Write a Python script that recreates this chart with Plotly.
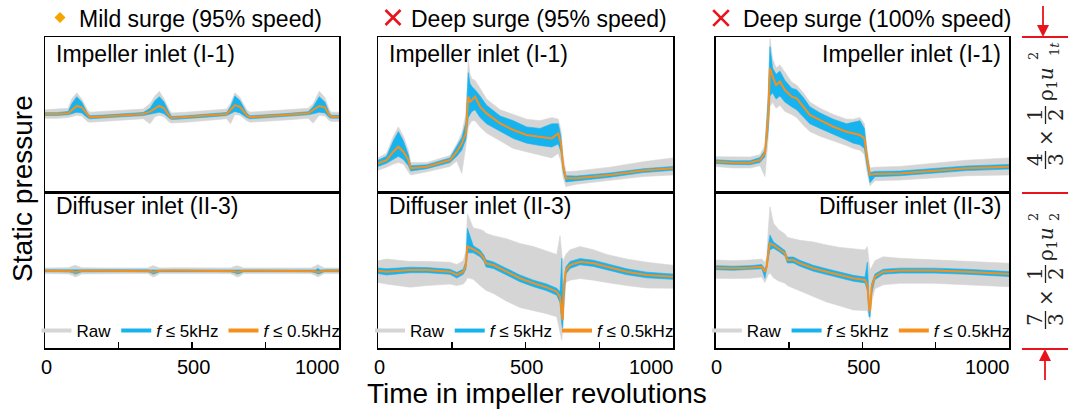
import plotly.graph_objects as go

# ---------------- data (normalised static pressure, % of the scale bar) ----------------
TICK_VALUES = [0, 500, 1000]
TICK_LABELS = ["0", "500", "1000"]
MINOR_TICKS = [250, 500, 750]

CASE_TITLES = ["Mild surge (95% speed)", "Deep surge (95% speed)", "Deep surge (100% speed)"]
LOCATIONS = ["Impeller inlet (I-1)", "Diffuser inlet (II-3)"]
SERIES_NAMES = ["Raw", "<i>f</i> ≤ 5kHz", "<i>f</i> ≤ 0.5kHz"]

# Mild surge (95%) - impeller inlet
mild_imp_x = [0, 40, 79, 91, 108, 125, 144, 153, 200, 260, 334, 357, 374, 389, 405, 423, 431, 480, 550,
              618, 631, 646, 663, 686, 697, 750, 820, 895, 912, 933, 952, 967, 975, 1000]
mild_imp_f05 = [50.3, 50.3, 50.8, 52.9, 55.5, 54.6, 49.7, 48.2, 48.7, 49.4, 50.3, 51.8, 54.0, 55.5, 54.0, 49.0, 47.7,
                48.3, 49.2, 50.3, 52.9, 56.1, 55.0, 49.7, 48.2, 48.8, 49.7, 50.8, 52.9, 55.5, 54.6, 49.7, 48.6, 48.6]
mild_imp_f5_hi = [51.2, 51.2, 52.0, 57.0, 61.5, 58.0, 51.0, 49.2, 49.6, 50.3, 51.3, 54.0, 59.0, 61.5, 58.0, 51.0, 48.7,
                  49.2, 50.1, 51.3, 55.0, 62.0, 59.0, 51.0, 49.2, 49.7, 50.6, 51.8, 55.0, 61.5, 58.0, 51.0, 49.5, 49.5]
mild_imp_f5_lo = [49.4, 49.4, 49.8, 50.5, 51.5, 51.0, 48.0, 47.2, 47.8, 48.5, 49.3, 50.0, 51.0, 51.5, 50.5, 47.5, 46.7,
                  47.4, 48.3, 49.3, 50.5, 52.0, 51.0, 48.0, 47.2, 47.9, 48.8, 49.8, 50.5, 51.5, 51.0, 48.0, 47.6, 47.6]
mild_imp_raw_hi = [53.0, 53.5, 54.0, 60.0, 64.0, 60.0, 53.0, 51.5, 52.0, 52.5, 53.5, 57.0, 62.0, 65.0, 60.0, 53.0, 51.0,
                   51.5, 52.5, 53.5, 57.0, 64.0, 61.0, 53.0, 51.5, 52.0, 53.0, 54.0, 57.0, 65.0, 61.0, 53.0, 51.5, 51.5]
mild_imp_raw_lo = [47.5, 47.5, 48.0, 48.5, 49.5, 49.0, 45.5, 45.0, 45.5, 46.3, 47.3, 44.0, 48.5, 49.5, 48.5, 45.0, 44.5,
                   45.0, 46.0, 47.3, 44.0, 50.0, 49.5, 46.0, 45.0, 45.5, 46.5, 47.5, 44.5, 49.5, 49.0, 46.0, 45.5, 45.5]

# Mild surge (95%) - diffuser inlet
mild_dif_x = [0, 80, 95, 102, 110, 125, 200, 300, 350, 360, 367, 375, 390, 450, 550, 630, 645, 653, 662, 675,
              750, 850, 905, 920, 928, 936, 950, 1000]
mild_dif_f05 = [49.5, 49.5, 49.2, 48.6, 49.0, 49.5, 49.5, 49.5, 49.5, 49.2, 48.6, 49.0, 49.5, 49.6, 49.5, 49.5, 49.2,
                48.6, 49.0, 49.5, 49.5, 49.5, 49.5, 49.2, 48.6, 49.1, 49.5, 49.5]
mild_dif_f5_hi = [50.1, 50.2, 50.0, 50.0, 49.9, 50.2, 50.1, 50.1, 50.1, 50.0, 50.0, 49.8, 50.1, 50.2, 50.1, 50.1, 50.0,
                  50.0, 49.8, 50.1, 50.1, 50.1, 50.1, 50.0, 51.0, 50.0, 50.1, 50.1]
mild_dif_f5_lo = [48.9, 48.8, 48.2, 47.4, 47.8, 48.8, 48.9, 48.9, 48.9, 48.2, 47.4, 47.8, 48.9, 49.0, 48.9, 48.9, 48.2,
                  47.4, 47.8, 48.9, 48.9, 48.9, 48.9, 48.2, 47.4, 47.8, 48.9, 48.9]
mild_dif_raw_hi = [51.3, 51.5, 52.5, 53.0, 52.5, 51.5, 51.3, 51.3, 51.3, 52.3, 52.8, 52.3, 51.3, 51.4, 51.3, 51.3, 52.3,
                   52.8, 52.3, 51.3, 51.3, 51.3, 51.3, 52.5, 53.5, 52.5, 51.3, 51.3]
mild_dif_raw_lo = [47.7, 47.5, 46.5, 45.5, 46.0, 47.5, 47.7, 47.7, 47.7, 46.5, 45.5, 46.0, 47.7, 47.8, 47.7, 47.7, 46.5,
                   45.5, 46.0, 47.7, 47.7, 47.7, 47.7, 46.5, 45.5, 46.0, 47.7, 47.7]

# Deep surge (95%) - impeller inlet
deep95_imp_x = [0, 29, 52, 69, 86, 103, 111, 165, 244, 267, 284, 298, 306, 312, 318, 329, 346, 368, 414, 459, 504,
                549, 589, 611, 620, 628, 637, 673, 786, 899, 1000]
deep95_imp_f05 = [18.5, 20.6, 26.0, 29.2, 26.0, 20.6, 15.3, 16.3, 20.6, 26.0, 31.4, 38.0, 61.5, 58.0, 59.3, 61.5, 55.0,
                  50.7, 44.3, 40.0, 36.8, 35.7, 34.6, 37.8, 31.4, 16.3, 8.8, 8.8, 11.0, 13.8, 15.3]
deep95_imp_f5_hi = [20.5, 23.0, 33.0, 39.0, 33.0, 24.0, 17.0, 17.5, 22.0, 29.0, 35.0, 45.0, 77.0, 70.0, 68.0, 66.0,
                    62.0, 56.0, 49.0, 46.0, 42.0, 41.0, 44.0, 44.0, 36.0, 18.0, 10.5, 10.3, 12.3, 15.0, 16.5]
deep95_imp_f5_lo = [16.5, 18.5, 21.0, 23.0, 21.0, 17.0, 13.5, 15.0, 19.0, 23.0, 27.0, 34.0, 48.0, 50.0, 52.0, 53.0,
                    48.0, 44.0, 39.0, 34.5, 31.5, 30.0, 29.0, 31.0, 26.0, 13.0, 6.5, 7.3, 9.5, 12.5, 14.0]
deep95_imp_raw_hi = [22.0, 25.0, 36.0, 42.0, 36.0, 27.0, 19.0, 19.0, 23.5, 31.0, 38.0, 50.0, 85.0, 76.0, 73.0, 72.0,
                     67.0, 60.0, 53.0, 50.0, 47.0, 46.0, 48.0, 47.0, 40.0, 22.0, 13.0, 13.5, 16.0, 19.5, 22.0]
deep95_imp_raw_lo = [14.0, 16.0, 18.0, 19.0, 18.0, 13.0, 11.0, 13.0, 16.5, 20.0, 12.0, 30.0, 42.0, 44.0, 46.0, 46.0,
                     42.0, 38.0, 33.0, 28.0, 26.0, 24.0, 22.0, 25.0, 20.0, 9.0, 3.5, 5.0, 7.5, 10.0, 11.0]

# Deep surge (95%) - diffuser inlet
deep95_dif_x = [0, 29, 108, 165, 244, 267, 289, 298, 303, 323, 346, 359, 366, 391, 436, 481, 527, 572, 606, 617,
                623, 626, 630, 637, 651, 685, 730, 775, 843, 911, 1000]
deep95_dif_f05 = [49.6, 48.9, 50.0, 50.0, 48.9, 46.8, 48.9, 53.2, 65.0, 63.3, 60.7, 57.5, 54.3, 53.2, 48.9, 44.7, 41.5,
                  38.9, 36.1, 32.9, 22.2, 17.9, 39.3, 50.0, 53.2, 55.3, 54.3, 52.1, 48.9, 46.8, 45.7]
deep95_dif_f5_hi = [51.3, 50.8, 51.8, 51.6, 50.5, 48.5, 50.5, 56.0, 76.7, 65.5, 62.8, 59.5, 56.5, 55.2, 51.0, 46.8,
                    43.5, 41.0, 38.3, 36.0, 57.5, 35.0, 41.5, 52.0, 55.5, 57.3, 56.3, 54.0, 50.8, 48.6, 47.4]
deep95_dif_f5_lo = [47.7, 46.8, 48.2, 48.3, 47.2, 44.8, 47.2, 50.5, 61.0, 61.0, 58.5, 55.5, 52.0, 51.0, 46.8, 42.5,
                    39.3, 36.7, 33.8, 29.0, 15.0, 12.6, 30.0, 47.5, 51.0, 53.3, 52.3, 50.1, 47.0, 45.0, 44.0]
deep95_dif_raw_hi = [56.0, 57.0, 55.5, 55.5, 55.0, 53.5, 56.0, 62.0, 86.0, 77.0, 76.0, 75.0, 73.5, 72.0, 70.0, 67.0,
                     65.0, 62.0, 60.0, 72.0, 60.0, 55.0, 57.0, 60.0, 63.0, 65.0, 63.0, 60.0, 57.0, 55.0, 53.0]
deep95_dif_raw_lo = [42.0, 41.0, 39.0, 40.0, 41.0, 40.0, 41.0, 43.0, 45.0, 44.0, 40.0, 38.0, 37.0, 35.0, 30.0, 26.0,
                     24.0, 22.0, 20.0, 10.0, 5.0, 10.0, 25.0, 42.0, 43.5, 44.5, 43.5, 42.0, 40.0, 38.5, 38.3]

# Deep surge (100%) - impeller inlet
deep100_imp_x = [0, 60, 117, 151, 168, 179, 185, 194, 206, 219, 236, 259, 276, 299, 321, 356, 401, 446, 469, 492,
                 507, 515, 526, 543, 628, 742, 855, 1000]
deep100_imp_f05 = [19.6, 18.9, 18.9, 20.6, 24.9, 48.6, 79.8, 74.4, 69.0, 71.2, 65.8, 61.5, 60.4, 55.0, 49.7, 46.4,
                   42.1, 38.9, 37.8, 36.8, 34.6, 22.8, 11.0, 11.6, 12.0, 13.8, 15.3, 16.3]
deep100_imp_f5_hi = [20.8, 20.1, 20.2, 22.2, 27.0, 60.0, 93.7, 80.0, 76.0, 78.0, 72.0, 67.0, 66.0, 61.0, 55.0, 51.0,
                     47.0, 44.0, 45.0, 46.0, 41.0, 26.0, 12.5, 13.3, 13.5, 15.3, 16.8, 17.8]
deep100_imp_f5_lo = [18.4, 17.7, 17.6, 19.0, 22.8, 40.0, 62.0, 64.0, 60.0, 62.0, 58.0, 55.0, 53.0, 48.5, 44.0, 41.0,
                     37.0, 33.5, 31.5, 30.5, 28.0, 18.0, 6.0, 9.9, 10.5, 12.3, 13.8, 14.8]
deep100_imp_raw_hi = [22.8, 22.5, 22.5, 24.0, 30.0, 65.0, 99.0, 86.0, 80.0, 82.0, 77.0, 71.0, 69.0, 64.0, 58.0, 54.0,
                      50.0, 47.0, 47.0, 48.0, 44.0, 30.0, 15.5, 16.0, 16.5, 18.5, 20.5, 22.0]
deep100_imp_raw_lo = [16.4, 15.5, 15.5, 17.0, 10.0, 35.0, 55.0, 58.0, 54.0, 56.0, 52.0, 50.0, 48.0, 43.0, 39.0, 36.0,
                      33.0, 30.0, 28.0, 27.0, 24.0, 14.0, 4.0, 7.3, 7.7, 9.2, 10.5, 11.0]

# Deep surge (100%) - diffuser inlet
deep100_dif_x = [0, 60, 117, 157, 168, 174, 179, 185, 197, 214, 236, 244, 265, 287, 333, 378, 424, 469, 509, 517,
                 523, 526, 532, 543, 571, 628, 742, 855, 1000]
deep100_dif_f05 = [51.5, 51.1, 51.5, 52.1, 48.9, 52.1, 60.7, 67.1, 66.0, 63.9, 60.7, 56.4, 56.4, 54.3, 51.1, 48.9,
                   46.8, 44.7, 43.6, 40.4, 26.5, 23.3, 39.3, 45.7, 48.9, 49.6, 49.6, 48.9, 47.4]
deep100_dif_f5_hi = [52.8, 52.4, 52.8, 53.5, 50.5, 54.0, 65.0, 72.4, 68.0, 65.8, 62.5, 58.3, 58.3, 56.2, 53.0, 50.8,
                     48.7, 46.6, 45.5, 55.0, 30.0, 26.0, 41.5, 47.5, 50.5, 51.2, 51.2, 50.5, 49.0]
deep100_dif_f5_lo = [50.2, 49.8, 50.2, 50.8, 44.7, 50.2, 56.0, 63.0, 64.0, 62.0, 59.0, 54.5, 54.5, 52.4, 49.2, 47.0,
                     44.9, 42.8, 41.7, 37.0, 20.0, 20.0, 35.0, 43.8, 47.3, 48.0, 48.0, 47.3, 45.8]
deep100_dif_raw_hi = [56.4, 56.0, 56.4, 57.0, 55.0, 58.0, 75.0, 90.6, 80.0, 76.0, 73.0, 71.0, 70.0, 69.0, 68.0, 66.0,
                      64.5, 63.5, 62.8, 65.0, 55.0, 50.0, 52.0, 56.0, 58.5, 57.5, 56.5, 55.5, 54.3]
deep100_dif_raw_lo = [44.7, 44.5, 44.7, 45.5, 42.0, 45.0, 47.0, 48.0, 45.0, 43.0, 41.5, 40.0, 38.5, 36.5, 33.0, 29.5,
                      27.0, 24.4, 24.0, 24.0, 20.0, 18.0, 30.0, 38.0, 40.5, 41.5, 41.5, 40.5, 39.3]

# ---------------- styling ----------------
W, H = 1070, 409
FONT = "Liberation Sans, Arial, sans-serif"
MATH = "DejaVu Serif, serif"
C_RAW = "#d5d5d5"
C_F5 = "#17b3ee"
C_F05 = "#f5901e"
C_RED = "#e8141c"
C_DIAMOND = "#f6a500"
BLACK = "#000000"
C_MATH = "#222222"


def px(x):
    return x / W


def py(y):
    return 1 - y / H


# pixel geometry of the three panels
PANEL_X = [(45, 339), (378, 673), (715.7, 1009)]
ROW_Y = [(37, 192), (192, 348)]

SUBPLOTS = [
    (mild_imp_x, mild_imp_raw_lo, mild_imp_raw_hi, mild_imp_f5_lo, mild_imp_f5_hi, mild_imp_f05),
    (mild_dif_x, mild_dif_raw_lo, mild_dif_raw_hi, mild_dif_f5_lo, mild_dif_f5_hi, mild_dif_f05),
    (deep95_imp_x, deep95_imp_raw_lo, deep95_imp_raw_hi, deep95_imp_f5_lo, deep95_imp_f5_hi, deep95_imp_f05),
    (deep95_dif_x, deep95_dif_raw_lo, deep95_dif_raw_hi, deep95_dif_f5_lo, deep95_dif_f5_hi, deep95_dif_f05),
    (deep100_imp_x, deep100_imp_raw_lo, deep100_imp_raw_hi, deep100_imp_f5_lo, deep100_imp_f5_hi, deep100_imp_f05),
    (deep100_dif_x, deep100_dif_raw_lo, deep100_dif_raw_hi, deep100_dif_f5_lo, deep100_dif_f5_hi, deep100_dif_f05),
]

fig = go.Figure()
layout_axes = {}
annotations = []
shapes = []

for k, (x, rlo, rhi, flo, fhi, f05) in enumerate(SUBPLOTS, start=1):
    col, row = (k - 1) // 2, (k - 1) % 2
    xa = "x" if k == 1 else f"x{k}"
    ya = "y" if k == 1 else f"y{k}"
    band_x = list(x) + list(x)[::-1]
    fig.add_trace(go.Scatter(x=band_x, y=list(rhi) + list(rlo)[::-1], fill="toself", fillcolor=C_RAW,
                             mode="lines", line=dict(color=C_RAW, width=0.6), xaxis=xa, yaxis=ya,
                             showlegend=False, hoverinfo="skip"))
    fig.add_trace(go.Scatter(x=band_x, y=list(fhi) + list(flo)[::-1], fill="toself", fillcolor=C_F5,
                             mode="lines", line=dict(color=C_F5, width=0.6), xaxis=xa, yaxis=ya,
                             showlegend=False, hoverinfo="skip"))
    fig.add_trace(go.Scatter(x=x, y=f05, mode="lines", line=dict(color=C_F05, width=2),
                             xaxis=xa, yaxis=ya, showlegend=False, hoverinfo="skip"))

    x0, x1 = PANEL_X[col]
    y0, y1 = ROW_Y[row]
    is_bottom = row == 1
    layout_axes["xaxis" if k == 1 else f"xaxis{k}"] = dict(
        domain=[px(x0), px(x1)], range=[0, 1000], anchor=ya, showline=True, mirror=True,
        linecolor=BLACK, linewidth=1.5, showgrid=False, zeroline=False, showticklabels=False,
        ticks="inside" if is_bottom else "", tickvals=MINOR_TICKS if is_bottom else [],
        ticklen=6, tickwidth=1.5, tickcolor=BLACK, fixedrange=True)
    layout_axes["yaxis" if k == 1 else f"yaxis{k}"] = dict(
        domain=[py(y1), py(y0)], range=[0, 100], anchor=xa, showline=True, mirror=True,
        linecolor=BLACK, linewidth=1.5, showgrid=False, zeroline=False, showticklabels=False,
        ticks="", fixedrange=True)

    # location label inside the subplot
    label_y = 53.5 if row == 0 else 206
    if col < 2:
        annotations.append(dict(text=LOCATIONS[row], x=px(x0 + 9), y=py(label_y), xref="paper", yref="paper",
                                xanchor="left", yanchor="middle", showarrow=False,
                                font=dict(family=FONT, size=23, color=BLACK)))
    else:
        annotations.append(dict(text=LOCATIONS[row], x=px(x1 - 6), y=py(label_y), xref="paper", yref="paper",
                                xanchor="right", yanchor="middle", showarrow=False,
                                font=dict(family=FONT, size=23, color=BLACK)))

    if is_bottom:
        # tick labels
        for v, t in zip(TICK_VALUES, TICK_LABELS):
            anchor = "right" if v == TICK_VALUES[-1] else "center"
            annotations.append(dict(text=t, x=v, xref=xa, y=py(366.5), yref="paper", xanchor=anchor,
                                    xshift=3 if anchor == "right" else 1, yanchor="middle", showarrow=False,
                                    font=dict(family=FONT, size=20, color=BLACK)))
        # legend entries
        leg = "legend" if col == 0 else f"legend{col + 1}"
        for name, color in zip(SERIES_NAMES, [C_RAW, C_F5, C_F05]):
            fig.add_trace(go.Scatter(x=[None], y=[None], mode="lines", name=name,
                                     line=dict(color=color, width=4), xaxis=xa, yaxis=ya,
                                     legend=leg, showlegend=True, hoverinfo="skip"))
        layout_axes[leg] = dict(orientation="h", x=px((x0 + x1) / 2 - 1), xanchor="center",
                                y=py(331), yanchor="middle", bgcolor="rgba(0,0,0,0)",
                                font=dict(family=FONT, size=17, color=BLACK),
                                itemwidth=30, tracegroupgap=0, itemclick=False, itemdoubleclick=False)

# panel titles
TITLE_LEFT = [78, 410, 742]
for i, t in enumerate(CASE_TITLES):
    annotations.append(dict(text=t, x=px(TITLE_LEFT[i] - 1), y=py(19.5), xref="paper", yref="paper",
                            xanchor="left", yanchor="middle", showarrow=False,
                            font=dict(family=FONT, size=23, color=BLACK)))

# orange diamond (mild surge) and red crosses (deep surge)
cx, cy, r = 60, 17.5, 5.5
shapes.append(dict(type="path", xref="paper", yref="paper",
                   path=f"M {px(cx)},{py(cy - r)} L {px(cx + r)},{py(cy)} L {px(cx)},{py(cy + r)} "
                        f"L {px(cx - r)},{py(cy)} Z",
                   fillcolor=C_DIAMOND, line=dict(width=0)))
for cx, cy, r in [(393, 17.5, 7.5), (721, 18, 7.8)]:
    for sgn in (1, -1):
        shapes.append(dict(type="line", xref="paper", yref="paper",
                           x0=px(cx - r), y0=py(cy - sgn * r), x1=px(cx + r), y1=py(cy + sgn * r),
                           line=dict(color=C_RED, width=2.6)))

# axis titles
annotations.append(dict(text="Static pressure", x=px(23), y=py(189), xref="paper", yref="paper",
                        textangle=-90, xanchor="center", yanchor="middle", showarrow=False,
                        font=dict(family=FONT, size=28, color=BLACK)))
annotations.append(dict(text="Time in impeller revolutions", x=px(537), y=py(393), xref="paper", yref="paper",
                        xanchor="center", yanchor="middle", showarrow=False,
                        font=dict(family=FONT, size=28, color=BLACK)))

# right-hand scale bars with arrows
for yy in (37, 193, 349):
    shapes.append(dict(type="line", xref="paper", yref="paper", x0=px(1022), x1=px(1068),
                       y0=py(yy), y1=py(yy), line=dict(color=C_RED, width=2)))
for ax_, tail, tip in [(1043, 6, 37), (1045, 380, 349)]:
    base = tip - 12 if tip > tail else tip + 12
    shapes.append(dict(type="line", xref="paper", yref="paper", x0=px(ax_), x1=px(ax_),
                       y0=py(tail), y1=py(base), line=dict(color=C_RED, width=1.8)))
    shapes.append(dict(type="path", xref="paper", yref="paper",
                       path=f"M {px(ax_ - 6)},{py(base)} L {px(ax_ + 6)},{py(base)} L {px(ax_)},{py(tip)} Z",
                       fillcolor=C_RED, line=dict(width=0)))


def math_label(numer, y_frac1, y_times, y_frac2, y_main, main_text, y_sup, sup_text, y_sub, sub_text):
    def txt(t, x, y, size):
        annotations.append(dict(text=t, x=px(x), y=py(y), xref="paper", yref="paper", textangle=-90,
                                xanchor="center", yanchor="middle", showarrow=False,
                                font=dict(family=MATH, size=size, color=C_MATH)))
    txt(numer, 1035, y_frac1, 20)
    txt("3", 1056, y_frac1, 20)
    shapes.append(dict(type="line", xref="paper", yref="paper", x0=px(1045.5), x1=px(1045.5),
                       y0=py(y_frac1 - 9), y1=py(y_frac1 + 9), line=dict(color=C_MATH, width=1.3)))
    txt("×", 1046, y_times, 20)
    txt("1", 1035, y_frac2, 20)
    txt("2", 1056, y_frac2, 20)
    shapes.append(dict(type="line", xref="paper", yref="paper", x0=px(1045.5), x1=px(1045.5),
                       y0=py(y_frac2 - 9), y1=py(y_frac2 + 9), line=dict(color=C_MATH, width=1.3)))
    txt(main_text, 1047, y_main, 20)
    txt(sup_text, 1034, y_sup, 13)
    txt(sub_text, 1055, y_sub, 13)


math_label("4", 160, 138, 115, 84, "ρ<sub>1</sub><i>u</i>", 56, "2", 49, "1<i>t</i>")
math_label("7", 320, 298, 274, 244, "ρ<sub>1</sub><i>u</i>", 217, "2", 217, "2")

fig.update_layout(
    width=W, height=H, autosize=False,
    margin=dict(l=0, r=0, t=0, b=0),
    paper_bgcolor="white", plot_bgcolor="rgba(0,0,0,0)",
    font=dict(family=FONT, color=BLACK),
    annotations=annotations, shapes=shapes,
    **layout_axes,
)

fig.write_html("out.html", config={"displayModeBar": False, "staticPlot": True},
               post_script="document.body.style.margin='0';document.body.style.overflow='hidden';")
